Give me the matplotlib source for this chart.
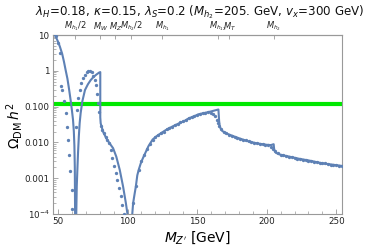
import matplotlib
matplotlib.use("Agg")
import matplotlib.pyplot as plt
from matplotlib.ticker import FixedLocator, NullFormatter

# ---- data: solid curve (three branches) ----
line1_x = [47.8, 49.0, 50.2, 51.4, 53.0, 54.3, 55.5, 56.8, 58.0, 59.1, 60.0, 60.8, 61.4, 61.8, 62.1, 62.35]
line1_y = [10.0, 8.0, 6.3, 4.7, 3.0, 1.8, 1.05, 0.6, 0.3, 0.15, 0.08, 0.043, 0.02, 0.008, 0.002, 0.00005]

line2_x = [63.0, 63.5, 64.0, 64.4, 65.0, 65.6, 66.3, 67.5, 69.4, 71.5, 73.5, 75.5, 77.5, 79.5, 80.4,
           80.4, 80.7, 82.4, 84.7, 87.2, 89.6, 91.9, 94.4, 96.8, 98.8, 100.3, 100.8, 101.2]
line2_y = [0.00005, 0.0006, 0.002, 0.005, 0.015, 0.035, 0.066, 0.14, 0.29, 0.42, 0.55, 0.67, 0.78, 0.89, 0.92,
           0.05, 0.034, 0.020, 0.013, 0.0093, 0.0069, 0.0040, 0.0017, 0.00058, 0.0002, 0.00008, 0.00003, 0.00001]

line3_x = [103.2, 104.0, 105.0, 106.0, 107.0, 108.0, 109.5, 111.0, 113.0, 115.0, 118.0, 121.0, 124.0, 127.0,
           130.0, 134.0, 137.0, 141.0, 144.0, 148.0, 151.0, 155.0, 158.0, 161.0, 165.3, 165.8, 166.3, 168.0,
           170.6, 174.0, 177.8, 182.0, 187.4, 193.0, 199.4, 203.0, 205.0, 205.4, 206.6, 210.0, 216.2, 223.0,
           230.6, 240.0, 254.0]
line3_y = [0.00008, 0.0002, 0.00035, 0.0006, 0.0012, 0.0017, 0.0026, 0.0036, 0.0053, 0.0078, 0.012, 0.015,
           0.018, 0.0215, 0.025, 0.030, 0.034, 0.040, 0.047, 0.054, 0.061, 0.066, 0.070, 0.075, 0.083, 0.040,
           0.027, 0.021, 0.018, 0.016, 0.014, 0.0123, 0.0105, 0.0094, 0.0086, 0.0084, 0.0089, 0.0062, 0.0051,
           0.0045, 0.0040, 0.0035, 0.0031, 0.0026, 0.0022]

# ---- data: dotted series ----
dots_x = [48.9, 50.2, 51.4, 52.2, 53.1, 54.3, 55.5, 56.5, 57.2, 58.1, 58.8, 59.9, 60.3,
          62.7, 63.9, 64.6, 65.6, 66.8, 68.2, 69.4, 70.6, 71.8, 73.0, 74.2, 75.4, 76.4, 77.1, 78.1, 79.0, 79.6,
          80.7, 81.9, 83.1, 84.3, 85.5, 86.7, 87.9, 89.1, 90.3, 91.5, 92.7, 93.9, 95.1, 96.3, 97.4,
          104, 106, 108, 110, 112, 114, 116, 118, 120, 122, 124, 126, 128, 130, 132, 134, 136, 138, 140,
          142, 144, 146, 148, 150, 152, 154, 156, 158, 160, 161.5, 163, 164, 165, 166, 167.5, 169, 171,
          173, 175, 177, 179, 181, 183, 185, 187, 189, 191, 193, 195, 197, 199, 201, 203, 204.5, 206,
          208, 210, 212, 214, 216, 218, 220, 222, 224, 226, 228, 230, 232, 234, 236, 238, 240, 242, 244,
          246, 248, 250, 252, 254]
dots_y = [9.3, 6.1, 3.2, 0.38, 0.29, 0.14, 0.066, 0.027, 0.012, 0.0045, 0.0016, 0.00048, 0.00014,
          0.027, 0.08, 0.17, 0.29, 0.45, 0.62, 0.76, 0.91, 1.0, 1.02, 0.9, 0.7, 0.55, 0.4, 0.23, 0.13, 0.07,
          0.029, 0.022, 0.018, 0.014, 0.012, 0.0094, 0.0063, 0.0036, 0.0022, 0.0014, 0.0009, 0.00052,
          0.00031, 0.00018, 0.0001,
          0.0002, 0.0006, 0.0017, 0.0030, 0.0044, 0.0065, 0.009, 0.012, 0.014, 0.016, 0.018, 0.020, 0.023,
          0.025, 0.027, 0.030, 0.033, 0.036, 0.039, 0.043, 0.047, 0.051, 0.054, 0.058, 0.062, 0.065, 0.068,
          0.069, 0.068, 0.063, 0.053, 0.043, 0.034, 0.028, 0.023, 0.020, 0.018, 0.0165, 0.0155, 0.0145,
          0.0135, 0.0127, 0.012, 0.0113, 0.0107, 0.0102, 0.0097, 0.0094, 0.0091, 0.0088, 0.0086, 0.0082,
          0.0075, 0.0066, 0.0057, 0.0049, 0.0045, 0.0043, 0.0041, 0.0040, 0.0038, 0.0037, 0.0035, 0.0034,
          0.0033, 0.0032, 0.0031, 0.0030, 0.0029, 0.0028, 0.0027, 0.0026, 0.0026, 0.0025, 0.0024, 0.0024,
          0.0023, 0.0022, 0.0022]

relic = 0.12

top_pos = [62.5, 80.4, 91.2, 102.5, 125.0, 165.0, 173.0, 205.0]
top_labels = [r"$M_{h_1}/2$", r"$M_W$", r"$M_Z$", r"$M_{h_2}/2$", r"$M_{h_1}$", r"$M_{h_{12}}$", r"$M_T$", r"$M_{h_2}$"]

y_ticks = [1e-4, 1e-3, 1e-2, 1e-1, 1, 10]
y_labels = [r"$10^{-4}$", "0.001", "0.010", "0.100", "1", "10"]
x_ticks = [50, 100, 150, 200, 250]

blue = "#5E81B5"
frame = "#999999"

fig = plt.figure(figsize=(3.74, 2.52), dpi=100)
ax = fig.add_axes([0.142, 0.151, 0.772, 0.710])

ax.axhline(relic, color="#00E800", lw=3.0, zorder=2)
for xs, ys in [(line1_x, line1_y), (line2_x, line2_y), (line3_x, line3_y)]:
    ax.plot(xs, ys, color=blue, lw=1.5, zorder=3)
ax.plot(dots_x, dots_y, 'o', color=blue, ms=2.4, mec='none', zorder=3)

ax.set_yscale('log')
ax.set_xlim(46.5, 254)
ax.set_ylim(1e-4, 10)

ax.set_yticks(y_ticks)
ax.set_yticklabels(y_labels)
ax.set_xticks(x_ticks)
ax.set_xticklabels([str(v) for v in x_ticks])
ax.xaxis.set_minor_locator(FixedLocator([v for v in range(50, 255, 10) if v % 50 != 0]))
ax.yaxis.set_minor_formatter(NullFormatter())

ax.tick_params(which='both', direction='in', colors=frame, labelcolor='#222222', labelsize=6.3,
               top=False, right=False)
ax.tick_params(which='major', length=3.5, width=0.6, pad=2.5)
ax.tick_params(which='minor', length=2, width=0.5)
for s in ax.spines.values():
    s.set_color(frame)
    s.set_linewidth(0.8)

sec = ax.secondary_xaxis('top')
sec.set_xticks(top_pos)
sec.set_xticklabels(top_labels)
sec.tick_params(direction='in', length=3, width=0.6, colors=frame, labelcolor='#222222', labelsize=6.0, pad=1.5)
sec.spines['top'].set_color(frame)
sec.spines['top'].set_linewidth(0.8)

fig.text(0.535, 0.952, r"$\lambda_H$=0.18, $\kappa$=0.15, $\lambda_S$=0.2 ($M_{h_2}$=205. GeV, $v_x$=300 GeV)",
         ha='center', va='center', fontsize=8.6, color='#111111')
fig.text(0.038, 0.5, r"$\Omega_{\rm DM}\, h^2$", rotation=90, ha='center', va='center', fontsize=10)
fig.text(0.527, 0.058, r"$M_{Z'}$ [GeV]", ha='center', va='center', fontsize=10)

fig.savefig("out.png", dpi=100)
